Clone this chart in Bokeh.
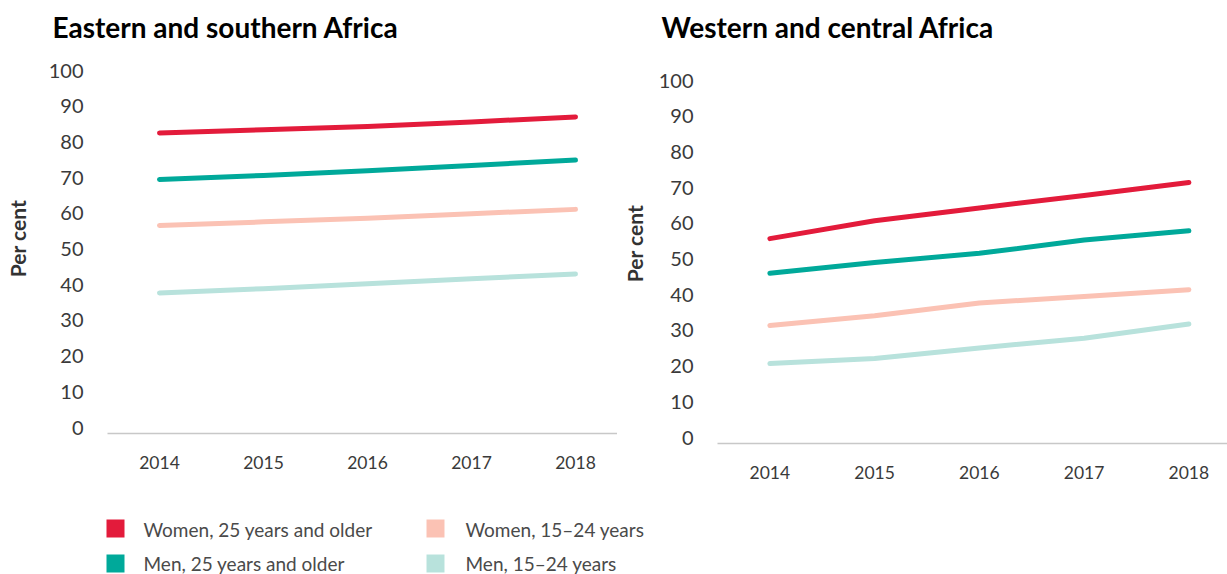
from bokeh.plotting import figure
from bokeh.models import Range1d, FixedTicker, Title
from bokeh.layouts import column, row
from bokeh.embed import file_html
from bokeh.resources import INLINE
from bokeh.core.properties import value

# ---------------- data ----------------
years = [2014, 2015, 2016, 2017, 2018]
series_names = ["Women, 25 years and older", "Men, 25 years and older",
                "Women, 15\u201324 years", "Men, 15\u201324 years"]
colors = ["#E31B3B", "#00A99A", "#FBC2B4", "#B8E2DC"]
y_ticks = [0, 10, 20, 30, 40, 50, 60, 70, 80, 90, 100]

esa_title = "Eastern and southern Africa"
esa_women_25plus = [82.5, 83.4, 84.3, 85.6, 87.0]
esa_men_25plus = [69.5, 70.6, 71.9, 73.4, 74.9]
esa_women_15_24 = [56.6, 57.6, 58.6, 59.9, 61.1]
esa_men_15_24 = [37.7, 38.9, 40.3, 41.7, 43.0]

wca_title = "Western and central Africa"
wca_women_25plus = [55.7, 60.7, 64.3, 67.8, 71.4]
wca_men_25plus = [46.0, 49.0, 51.6, 55.3, 57.9]
wca_women_15_24 = [31.4, 34.1, 37.7, 39.5, 41.4]
wca_men_15_24 = [20.7, 22.1, 25.1, 27.8, 31.8]

y_label = "Per cent"

FONT = "Lato"
PX_PER_UNIT = 3.57


def make_panel(title, series, width, height, left, top, frame_w, frame_h,
               px_year, title_dx, ylab_standoff):
    y0 = -1.68
    y1 = y0 + frame_h / PX_PER_UNIT
    x0 = 2013.5
    x1 = x0 + frame_w / px_year
    p = figure(width=width, height=height, output_backend="svg",
               toolbar_location=None, x_range=Range1d(x0, x1),
               y_range=Range1d(y0, y1), min_border_left=left,
               min_border_top=top, min_border_right=width - left - frame_w,
               min_border_bottom=height - top - frame_h)
    try:
        p.frame_align = False
    except Exception:
        pass
    p.outline_line_color = None
    p.xgrid.visible = False
    p.ygrid.visible = False
    p.background_fill_color = "white"
    p.border_fill_color = "white"

    p.title = Title(text=title, align="left", offset=title_dx,
                    text_font=FONT, text_font_style="bold",
                    text_font_size="28px", text_color="#000000",
                    standoff=0)

    for vals, c in zip(series, colors):
        p.line(years, vals, line_color=c, line_width=5, line_cap="round",
               line_join="round")

    ya = p.yaxis[0]
    ya.ticker = FixedTicker(ticks=y_ticks)
    ya.axis_line_color = None
    ya.major_tick_line_color = None
    ya.minor_tick_line_color = None
    ya.major_label_standoff = 18
    ya.major_label_text_font = FONT
    ya.major_label_text_font_size = "20px"
    ya.major_label_text_color = "#3a3a3a"
    ya.axis_label = y_label
    ya.axis_label_standoff = ylab_standoff
    ya.axis_label_text_font = FONT
    ya.axis_label_text_font_style = "bold"
    ya.axis_label_text_font_size = "21px"
    ya.axis_label_text_color = "#333333"

    xa = p.xaxis[0]
    xa.ticker = FixedTicker(ticks=years)
    xa.axis_line_color = "#c8c8c8"
    xa.axis_line_width = 1.5
    xa.major_tick_line_color = None
    xa.minor_tick_line_color = None
    xa.major_label_standoff = 16
    xa.major_label_text_font = FONT
    xa.major_label_text_font_size = "17.5px"
    xa.major_label_text_color = "#3a3a3a"
    return p


p1 = make_panel(esa_title,
                [esa_women_25plus, esa_men_25plus, esa_women_15_24, esa_men_15_24],
                width=617, height=490, left=107, top=43, frame_w=510,
                frame_h=390, px_year=104.0, title_dx=-55, ylab_standoff=16)

p2 = make_panel(wca_title,
                [wca_women_25plus, wca_men_25plus, wca_women_15_24, wca_men_15_24],
                width=610, height=490, left=100, top=43, frame_w=510,
                frame_h=400, px_year=104.75, title_dx=-56, ylab_standoff=9)

# ---------------- legend ----------------
LW, LH = 1227, 84
leg = figure(width=LW, height=LH, output_backend="svg", toolbar_location=None,
             x_range=Range1d(0, LW), y_range=Range1d(LH, 0),
             x_axis_location=None, y_axis_location=None,
             min_border=0, min_border_left=0, min_border_right=0,
             min_border_top=0, min_border_bottom=0)
leg.outline_line_color = None
leg.xgrid.visible = False
leg.ygrid.visible = False

sq_x = [115, 115, 435, 435]
sq_y = [38, 73, 38, 73]
tx_x = [143, 143, 465, 465]
tx_y = [39, 73, 39, 73]
leg.rect(x=sq_x, y=sq_y, width=18, height=18, fill_color=colors,
         line_color=None)
leg.text(x=tx_x, y=tx_y, text=series_names,
         text_font=value(FONT), text_font_size=value("19px"),
         text_color="#4a4a4a", text_baseline="middle", text_align="left")

layout = column(row(p1, p2, spacing=0), leg, spacing=0)
open("out.html", "w").write(file_html(layout, INLINE))
